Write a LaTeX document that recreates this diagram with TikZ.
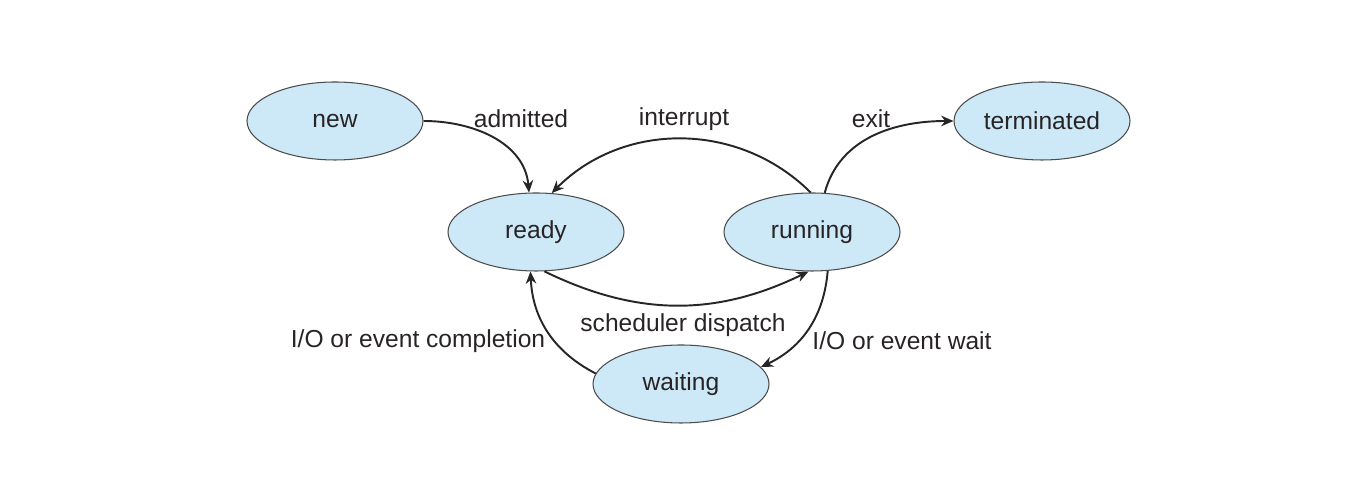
\documentclass[tikz,border=0pt]{standalone}
\usepackage{fontspec}
\setmainfont{Liberation Sans}
\usepackage{tikz}
\usetikzlibrary{shapes.geometric, arrows.meta}
\usepackage{xcolor}
\definecolor{statefill}{RGB}{205,232,246}
\definecolor{txt}{RGB}{40,36,38}

\begin{document}
\begin{tikzpicture}[
    state/.style={ellipse, draw=black!70, line width=0.6pt, fill=statefill,
      minimum width=3.52cm, minimum height=1.56cm, inner sep=0pt,
      text=txt, font=\fontsize{14}{16}\selectfont},
    lbl/.style={text=txt, font=\fontsize{14}{16}\selectfont, inner sep=1pt},
    trans/.style={-{Stealth[length=7pt,width=6pt]}, line width=1.1pt, black!85}]
   \useasboundingbox (0,0) rectangle (27.44,9.68);

   \node[state] (new) at (6.70, 7.26) {new};
   \node[state] (ready) at (10.72, 5.04) {ready};
   \node[state] (run) at (16.24, 5.04) {running};
   \node[state] (term) at (20.84, 7.26) {terminated};
   \node[state] (wait) at (13.62, 2.00) {waiting};

   \node[lbl] (adm) at (10.42, 7.30) {admitted};
   \node[lbl] (intr) at (13.68, 7.30) {interrupt};
   \node[lbl] (ex) at (17.42, 7.30) {exit};
   \node[lbl] (sd) at (13.66, 3.18) {scheduler dispatch};
   \node[lbl] (ioc) at (8.36, 2.86) {I/O or event completion};
   \node[lbl] (iow) at (18.04, 2.86) {I/O or event wait};

   \draw[trans] (new.east) to[out=0, in=95] (ready.100);
   \draw[trans] (run.92) to[bend right=45] (ready.68);
   \draw[trans] (run.72) to[out=75, in=180] (term.west);
   \draw[trans] (ready.282) to[bend right=26] (run.265);
   \draw[trans] (run.292) to[bend left=30] (wait.12);
   \draw[trans] (wait.173) to[bend left=30] (ready.262);
  \end{tikzpicture}
\end{document}
